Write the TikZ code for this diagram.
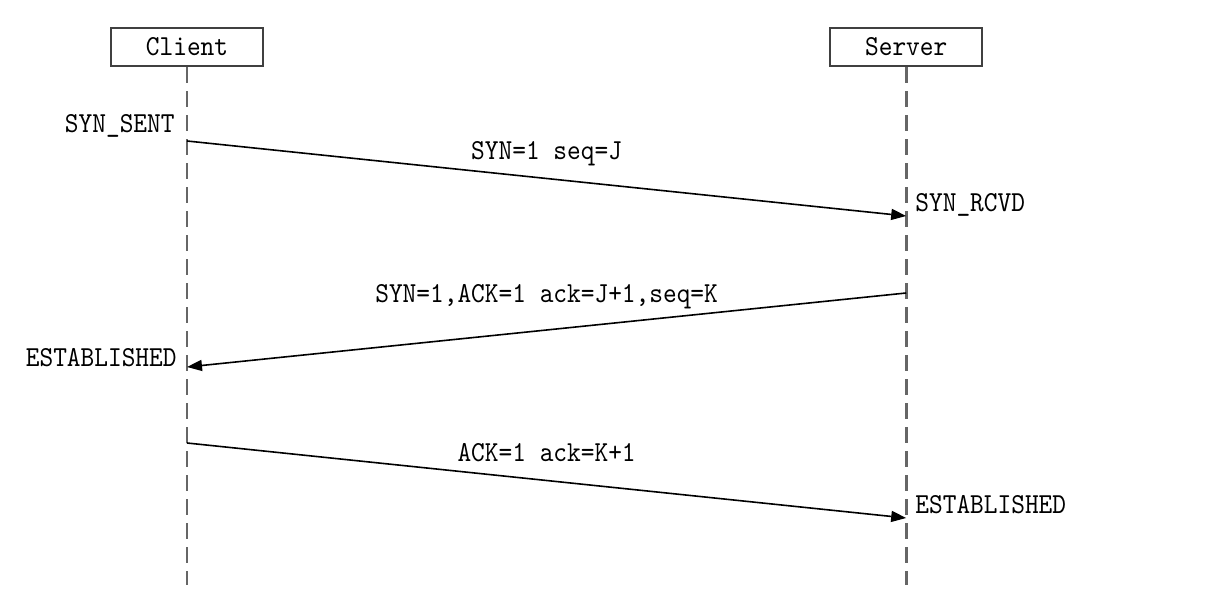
\documentclass[tikz,border=0pt]{standalone}
\usepackage{fontspec}
\setmonofont[FakeStretch=0.9]{lmmono10-regular.otf}
\usetikzlibrary{arrows.meta,positioning}
\tikzset{
    actor/.style={rectangle, draw=black!75, line width=1.1pt, minimum width=76pt, minimum height=19pt, inner sep=0pt, font=\fontsize{14.5}{17}\ttfamily},
    lifeline/.style={draw=black!60, line width=1.4pt, dash pattern=on 8pt off 4pt},
    msg/.style={-{Triangle[length=7.5pt,width=5.5pt]}, line width=0.8pt},
    lbl/.style={inner sep=0pt, anchor=base, font=\fontsize{14.5}{17}\ttfamily},
    statelbl/.style={inner sep=0pt, font=\fontsize{14.5}{17}\ttfamily},
}
\begin{document}
\begin{tikzpicture}[x=0.5pt, y=-0.5pt]
    \useasboundingbox (0,0) rectangle (1232,592);
    \node[actor] (client) at (187,47) {Client};
    \node[actor, right=282.5pt of client] (server) {Server};
    \coordinate (cend) at (client.center |- 0,585);
    \coordinate (send) at (server.center |- 0,585);

    \foreach \a/\b in {client/cend, server/send} \draw[lifeline] (\a) -- (\b);

    \coordinate (c1) at (client.center |- 0,141);
    \coordinate (s1) at (server.center |- 0,216);
    \coordinate (s2) at (server.center |- 0,293);
    \coordinate (c2) at (client.center |- 0,367);
    \coordinate (c3) at (client.center |- 0,443);
    \coordinate (s3) at (server.center |- 0,518);

    \node[statelbl, anchor=base east] (synsent) at (175,133) {SYN\_SENT};
    \node[statelbl, anchor=base west] (synrcvd) at (915,212) {SYN\_RCVD};
    \node[statelbl, anchor=base east] (estc) at (177,367) {ESTABLISHED};
    \node[statelbl, anchor=base west] (ests) at (915,514) {ESTABLISHED};

    \draw[msg] (c1) -- node[lbl, yshift=9.25pt] {SYN=1 seq=J} (s1);
    \draw[msg] (s2) -- node[lbl, yshift=13.5pt] {SYN=1,ACK=1 ack=J+1,seq=K} (c2);
    \draw[msg] (c3) -- node[lbl, yshift=9.25pt] {ACK=1 ack=K+1} (s3);
\end{tikzpicture}
\end{document}
